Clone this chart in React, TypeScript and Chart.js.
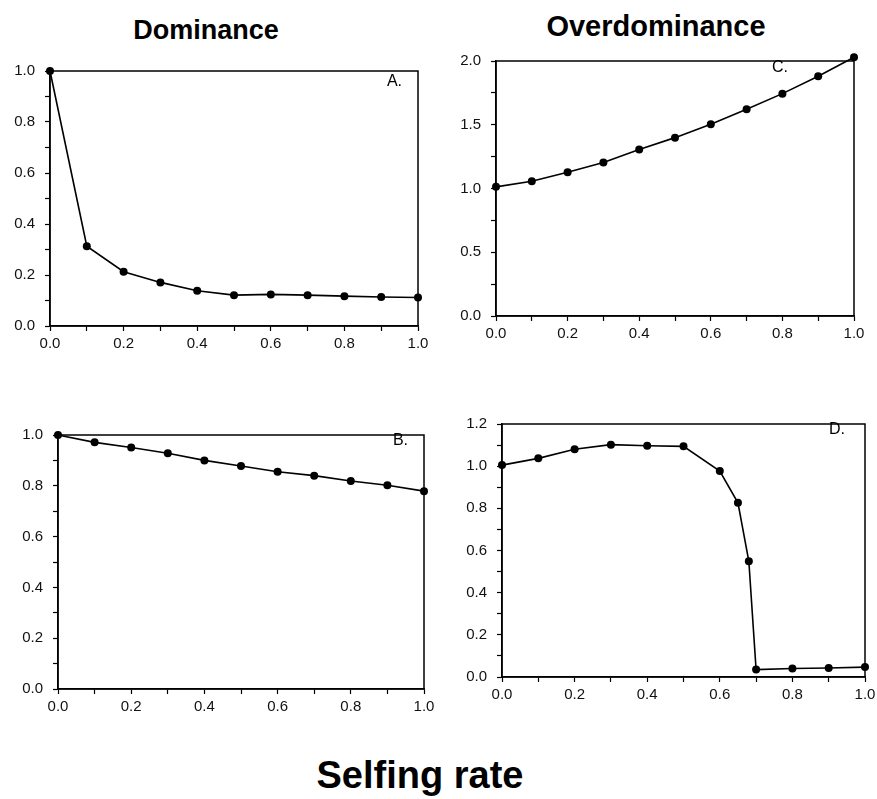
import React, { useEffect, useRef } from "react";
import { Chart, registerables } from "chart.js";

Chart.register(...registerables);

// ---- Data ----
const selfingRate = [0, 0.1, 0.2, 0.3, 0.4, 0.5, 0.6, 0.7, 0.8, 0.9, 1.0];
const dominanceA = [1.0, 0.313, 0.213, 0.171, 0.138, 0.121, 0.124, 0.121, 0.117, 0.114, 0.112];
const dominanceB = [1.0, 0.971, 0.951, 0.928, 0.9, 0.878, 0.855, 0.84, 0.819, 0.802, 0.779];
const overdominanceC = [1.013, 1.057, 1.128, 1.204, 1.305, 1.399, 1.504, 1.621, 1.744, 1.88, 2.03];
const selfingRateD = [0, 0.1, 0.2, 0.3, 0.4, 0.5, 0.6, 0.65, 0.68, 0.7, 0.8, 0.9, 1.0];
const overdominanceD = [1.005, 1.037, 1.08, 1.102, 1.097, 1.094, 0.977, 0.826, 0.549, 0.035, 0.04, 0.043, 0.047];

const columnTitles = ["Dominance", "Overdominance"];
const xAxisTitle = "Selfing rate";
const panelLetters = ["A.", "B.", "C.", "D."];

const FONT = '"Liberation Sans", Arial, Helvetica, sans-serif';
const Y_W = 50;
const PT = 20;
const PR = 22;
const X_H = 30;

type Area = { l: number; t: number; r: number; b: number };

type PanelProps = {
  area: Area;
  xs: number[];
  ys: number[];
  yMax: number;
  yStep: number;
  yLabelEvery: number;
  letter: string;
  letterDx: number;
  letterDy: number;
};

function Panel({ area, xs, ys, yMax, yStep, yLabelEvery, letter, letterDx, letterDy }: PanelProps) {
  const ref = useRef<HTMLCanvasElement | null>(null);
  const left = area.l - Y_W;
  const top = area.t - PT;
  const width = area.r - area.l + Y_W + PR;
  const height = area.b - area.t + PT + X_H;

  useEffect(() => {
    if (!ref.current) return;
    const framePlugin = {
      id: "frame",
      beforeDatasetsDraw(chart: any) {
        const { ctx, chartArea: a } = chart;
        ctx.save();
        ctx.strokeStyle = "#000";
        ctx.lineWidth = 1.5;
        ctx.strokeRect(a.left, a.top, a.right - a.left, a.bottom - a.top);
        ctx.restore();
      },
      afterDraw(chart: any) {
        const { ctx, chartArea: a } = chart;
        ctx.save();
        ctx.font = `16px ${FONT}`;
        ctx.fillStyle = "#000";
        ctx.textAlign = "right";
        ctx.textBaseline = "top";
        ctx.fillText(letter, a.right - letterDx, a.top + letterDy);
        ctx.restore();
      },
    };
    const tickFont = { family: FONT, size: 15 };
    const chart = new Chart(ref.current, {
      type: "line",
      data: {
        datasets: [
          {
            data: xs.map((x, i) => ({ x, y: ys[i] })),
            borderColor: "#000",
            borderWidth: 1.6,
            pointRadius: 4,
            pointBackgroundColor: "#000",
            pointBorderWidth: 0,
            tension: 0,
            clip: false as any,
          },
        ],
      },
      options: {
        animation: false,
        responsive: false,
        maintainAspectRatio: false,
        layout: { padding: { top: PT, right: PR, left: 0, bottom: 0 } },
        plugins: { legend: { display: false }, tooltip: { enabled: false } },
        scales: {
          x: {
            type: "linear",
            min: 0,
            max: 1,
            ticks: {
              stepSize: 0.1,
              autoSkip: false,
              maxRotation: 0,
              padding: 4,
              color: "#111",
              font: tickFont,
              callback: (v: any) => (Math.round(Number(v) * 10) % 2 === 0 ? Number(v).toFixed(1) : ""),
            },
            grid: { drawOnChartArea: false, drawTicks: true, tickLength: 5, tickColor: "#000", tickWidth: 1.2 },
            border: { display: true, color: "#000", width: 1.5 },
            afterFit: (s: any) => {
              s.height = X_H;
            },
          },
          y: {
            type: "linear",
            min: 0,
            max: yMax,
            ticks: {
              stepSize: yStep,
              autoSkip: false,
              padding: 10,
              color: "#111",
              font: tickFont,
              callback: (v: any) =>
                Math.round(Number(v) / yStep) % yLabelEvery === 0 ? Number(v).toFixed(1) : "",
            },
            grid: { drawOnChartArea: false, drawTicks: true, tickLength: 5, tickColor: "#000", tickWidth: 1.2 },
            border: { display: true, color: "#000", width: 1.5 },
            afterFit: (s: any) => {
              s.width = Y_W;
            },
          },
        },
      } as any,
      plugins: [framePlugin],
    });
    return () => chart.destroy();
  }, []);

  return (
    <canvas
      ref={ref}
      width={width}
      height={height}
      style={{ position: "absolute", left, top, width, height }}
    />
  );
}

function Title({ text, cx, baseline, size }: { text: string; cx: number; baseline: number; size: number }) {
  return (
    <div
      style={{
        position: "absolute",
        left: cx,
        top: baseline - 0.8465 * size,
        transform: "translateX(-50%)",
        fontFamily: FONT,
        fontWeight: "bold",
        fontSize: size,
        lineHeight: 1,
        whiteSpace: "nowrap",
        color: "#000",
      }}
    >
      {text}
    </div>
  );
}

export default function App() {
  return (
    <div
      style={{
        position: "absolute",
        left: 0,
        top: 0,
        width: 877,
        height: 799,
        background: "#fff",
        overflow: "hidden",
      }}
    >
      <Title text={columnTitles[0]} cx={206} baseline={40} size={27} />
      <Title text={columnTitles[1]} cx={656} baseline={37} size={29} />
      <Panel
        area={{ l: 50, t: 71, r: 418, b: 326 }}
        xs={selfingRate}
        ys={dominanceA}
        yMax={1}
        yStep={0.1}
        yLabelEvery={2}
        letter={panelLetters[0]}
        letterDx={16}
        letterDy={3}
      />
      <Panel
        area={{ l: 496, t: 61, r: 854, b: 316 }}
        xs={selfingRate}
        ys={overdominanceC}
        yMax={2}
        yStep={0.25}
        yLabelEvery={2}
        letter={panelLetters[2]}
        letterDx={66}
        letterDy={-1}
      />
      <Panel
        area={{ l: 58, t: 435, r: 424, b: 689 }}
        xs={selfingRate}
        ys={dominanceB}
        yMax={1}
        yStep={0.1}
        yLabelEvery={2}
        letter={panelLetters[1]}
        letterDx={16}
        letterDy={-2}
      />
      <Panel
        area={{ l: 502, t: 424, r: 865, b: 677 }}
        xs={selfingRateD}
        ys={overdominanceD}
        yMax={1.2}
        yStep={0.1}
        yLabelEvery={2}
        letter={panelLetters[3]}
        letterDx={20}
        letterDy={-2}
      />
      <Title text={xAxisTitle} cx={420} baseline={788} size={38} />
    </div>
  );
}
